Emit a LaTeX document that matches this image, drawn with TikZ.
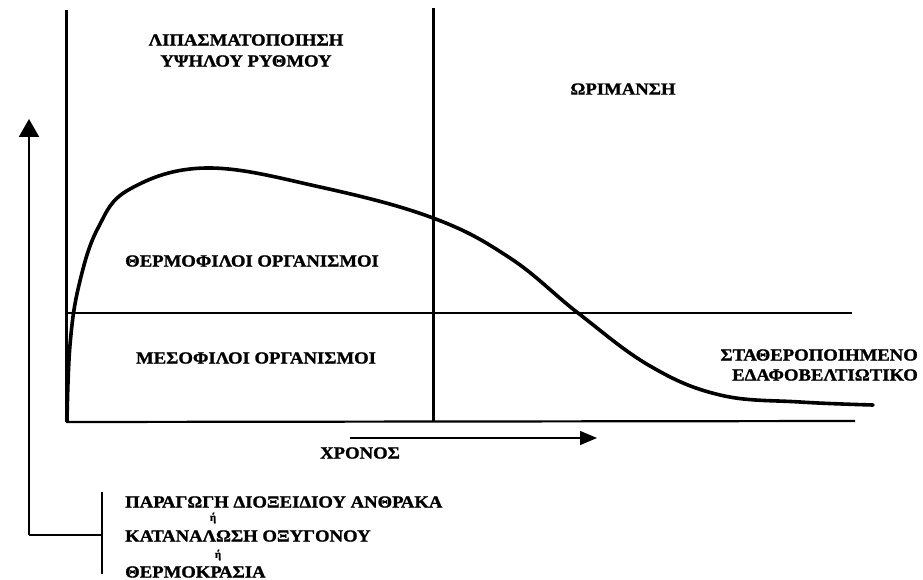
\documentclass[tikz,border=0pt]{standalone}
\usepackage{fontspec}
\setmainfont{Liberation Serif}
\newfontfamily\lbold{Liberation Serif}[UprightFont={* Bold}, FakeBold=1.2]
\usetikzlibrary{arrows.meta}
\newcommand\wtxt[1]{\scalebox{1.1}[1]{#1}}
\tikzset{
  lbl/.style={inner sep=0pt, font=\lbold\fontsize{17}{19}\selectfont},
  small/.style={inner sep=0pt, font=\lbold\fontsize{11}{12}\selectfont},
  thick line/.style={line width=3pt},
  mid line/.style={line width=2.2pt},
  thin line/.style={line width=1.3pt},
  curve/.style={line width=3.6pt, line cap=round}
}
\begin{document}
\begin{tikzpicture}[x=1pt,y=-1pt]
\useasboundingbox (0,0) rectangle (923,580);
% axes and frame
\coordinate (tl) at (66,10);
\coordinate (bl) at (66,422);
\coordinate (br) at (855,421);
\coordinate (mt) at (433,8);
\coordinate (mb) at (433,421);
\coordinate (hl) at (66,313);
\coordinate (hr) at (852,313);
\coordinate (ya) at (29,535);
\coordinate (yt) at (29,119);
\coordinate (bk) at (102,535);
\coordinate (bt) at (102,492);
\coordinate (bb) at (102,574);
\coordinate (t1) at (350,438);
\coordinate (t2) at (597,438);

\draw[thick line] (tl) -- (bl);
\draw[mid line] (bl) -- (br);
\draw[thick line] (mt) -- (mb);
\draw[mid line] (hl) -- (hr);
\draw[mid line, -{Triangle[width=20pt,length=18pt]}] (ya) -- (yt);
\draw[mid line] (ya) -- (bk);
\draw[mid line] (bt) -- (bb);
\draw[thin line, -{Triangle[width=14pt,length=17pt]}] (t1) -- (t2);

% curve
\draw[curve] plot[smooth, tension=0.65] coordinates {
 (67,421) (70,345) (79,285) (98,228) (130,189) (207,168)
 (320,187) (433,218) (510,258) (578,313) (650,366) (720,395)
 (800,402) (873,405)};

% labels
\node[lbl] (lip1) at (246,40) {\wtxt{ΛΙΠΑΣΜΑΤΟΠΟΙΗΣΗ}};
\node[lbl] (lip2) at (246,61) {\wtxt{ΥΨΗΛΟΥ ΡΥΘΜΟΥ}};
\node[lbl] (orim) at (623,89) {\wtxt{ΩΡΙΜΑΝΣΗ}};
\node[lbl] (therm) at (252,261) {\wtxt{ΘΕΡΜΟΦΙΛΟΙ ΟΡΓΑΝΙΣΜΟΙ}};
\node[lbl] (meso) at (256,358) {\wtxt{ΜΕΣΟΦΙΛΟΙ ΟΡΓΑΝΙΣΜΟΙ}};
\node[lbl, anchor=east] (stath1) at (918,355) {\wtxt{ΣΤΑΘΕΡΟΠΟΙΗΜΕΝΟ}};
\node[lbl, anchor=east] (stath2) at (918,375) {\wtxt{ΕΔΑΦΟΒΕΛΤΙΩΤΙΚΟ}};
\node[lbl] (xronos) at (360,453) {\wtxt{ΧΡΟΝΟΣ}};
\node[lbl, anchor=west] (par) at (125,502) {\wtxt{ΠΑΡΑΓΩΓΗ ΔΙΟΞΕΙΔΙΟΥ ΑΝΘΡΑΚΑ}};
\node[small] (or1) at (213,518) {ή};
\node[lbl, anchor=west] (kat) at (125,536) {\wtxt{ΚΑΤΑΝΑΛΩΣΗ ΟΞΥΓΟΝΟΥ}};
\node[small] (or2) at (218,555) {ή};
\node[lbl, anchor=west] (therm2) at (125,572) {\wtxt{ΘΕΡΜΟΚΡΑΣΙΑ}};
\end{tikzpicture}
\end{document}
